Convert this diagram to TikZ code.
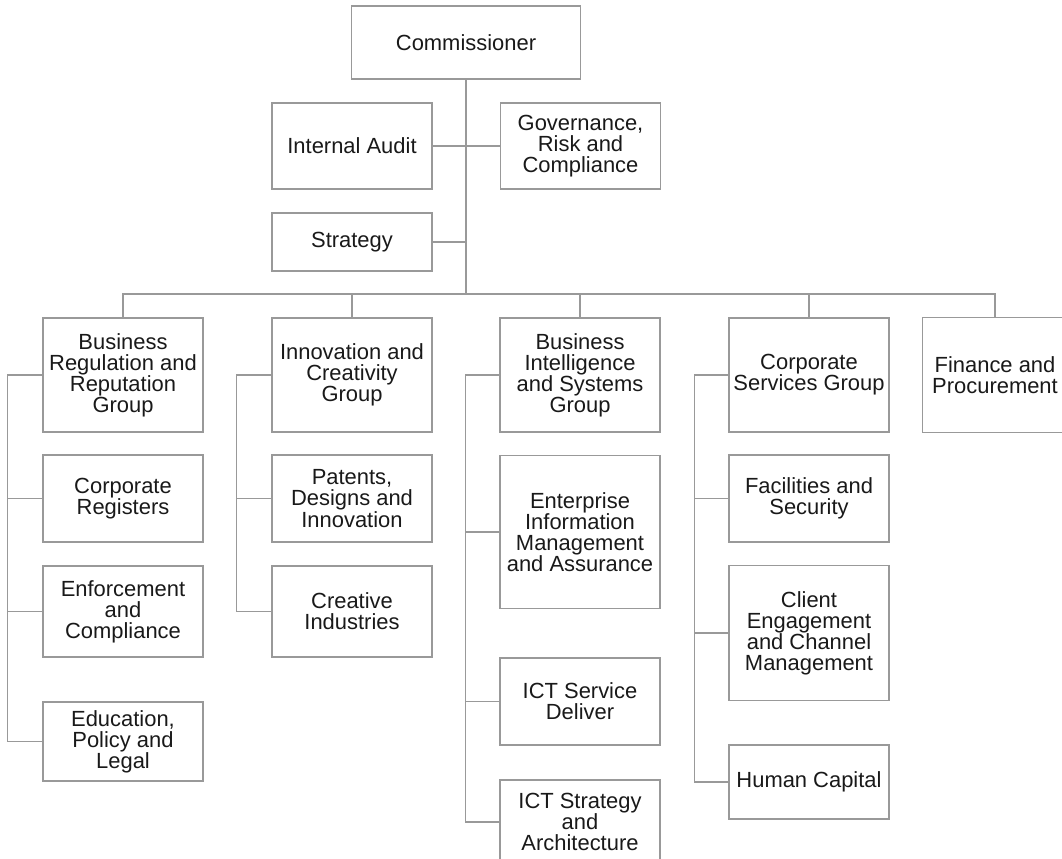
\documentclass[tikz,border=0pt]{standalone}
\usepackage{fontspec}
\setmainfont{Liberation Sans}
\usetikzlibrary{positioning}

\begin{document}
\begin{tikzpicture}[x=0.025cm,y=-0.025cm,
  box/.style={draw=black!40,line width=0.8pt,minimum width=4cm,align=center,inner sep=2pt,
    font=\fontsize{15.6}{15}\selectfont,text=black!90},
  link/.style={draw=black!40,line width=0.8pt}]
\useasboundingbox (0,0) rectangle (1062,858);
% top of the chart
\node[box,minimum width=5.725cm,minimum height=1.825cm] (comm) at (466,42.5) {Commissioner};
\node[box,minimum height=2.15cm] (audit) at (352,146) {Internal Audit};
\node[box,minimum height=2.15cm] (gov) at (580.5,146) {Governance,\\Risk and\\Compliance};
\node[box,minimum height=1.45cm] (strat) at (352,242) {Strategy};
\coordinate (bus) at (466,294);
% columns
\node[box,minimum height=2.85cm] (reg) at (123,375) {Business\\Regulation and\\Reputation\\Group};
\node[box,minimum height=2.175cm] (creg) at (123,498.5) {Corporate\\Registers};
\node[box,minimum height=2.275cm] (enf) at (123,611.5) {Enforcement\\and\\Compliance};
\node[box,minimum height=1.975cm] (edu) at (123,741.5) {Education,\\Policy and\\Legal};
\node[box,minimum height=2.85cm] (innov) at (352,375) {Innovation and\\Creativity\\Group};
\node[box,minimum height=2.175cm] (pat) at (352,498.5) {Patents,\\Designs and\\Innovation};
\node[box,minimum height=2.275cm] (creat) at (352,611.5) {Creative\\Industries};
\node[box,minimum height=2.85cm] (bisg) at (580,375) {Business\\Intelligence\\and Systems\\Group};
\node[box,minimum height=3.825cm] (eima) at (580,532) {Enterprise\\Information\\Management\\and Assurance};
\node[box,minimum height=2.175cm] (ictsd) at (580,701.5) {ICT Service\\Deliver};
\node[box,minimum height=2.1cm] (ictsa) at (580,822) {ICT Strategy\\and\\Architecture};
\node[box,minimum height=2.85cm] (csg) at (809,375) {Corporate\\Services Group};
\node[box,minimum height=2.175cm] (fac) at (809,498.5) {Facilities and\\Security};
\node[box,minimum height=3.375cm] (client) at (809,633) {Client\\Engagement\\and Channel\\Management};
\node[box,minimum height=1.85cm] (hc) at (809,782) {Human Capital};
% last box runs off the right edge
\node[box,draw=none,minimum width=3.6cm,minimum height=2.85cm] (fin) at (995,375) {Finance and\\Procurement};
\draw[link] (fin.north west) rectangle ([xshift=1cm]fin.south east);
% connectors
\draw[link] (comm.south) -- (bus);
\draw[link] (audit.east) -- (gov.west);
\draw[link] (strat.east) -- (strat.east -| bus);
\draw[link] (reg.north) |- (bus) -| (fin.north);
\foreach \n in {innov,bisg,csg}
  \draw[link] (\n.north) -- (\n.north |- bus);
\draw[link] (reg.west) -- ++(-34.5,0) coordinate (s1) |- (edu.west);
\draw[link] (innov.west) -- ++(-35,0) coordinate (s2) |- (creat.west);
\draw[link] (bisg.west) -- ++(-34,0) coordinate (s3) |- (ictsa.west);
\draw[link] (csg.west) -- ++(-34,0) coordinate (s4) |- (hc.west);
\foreach \n/\s in {creg/s1,enf/s1,pat/s2,eima/s3,ictsd/s3,fac/s4,client/s4}
  \draw[link] (\n.west) -- (\n.west -| \s);
\end{tikzpicture}
\end{document}
